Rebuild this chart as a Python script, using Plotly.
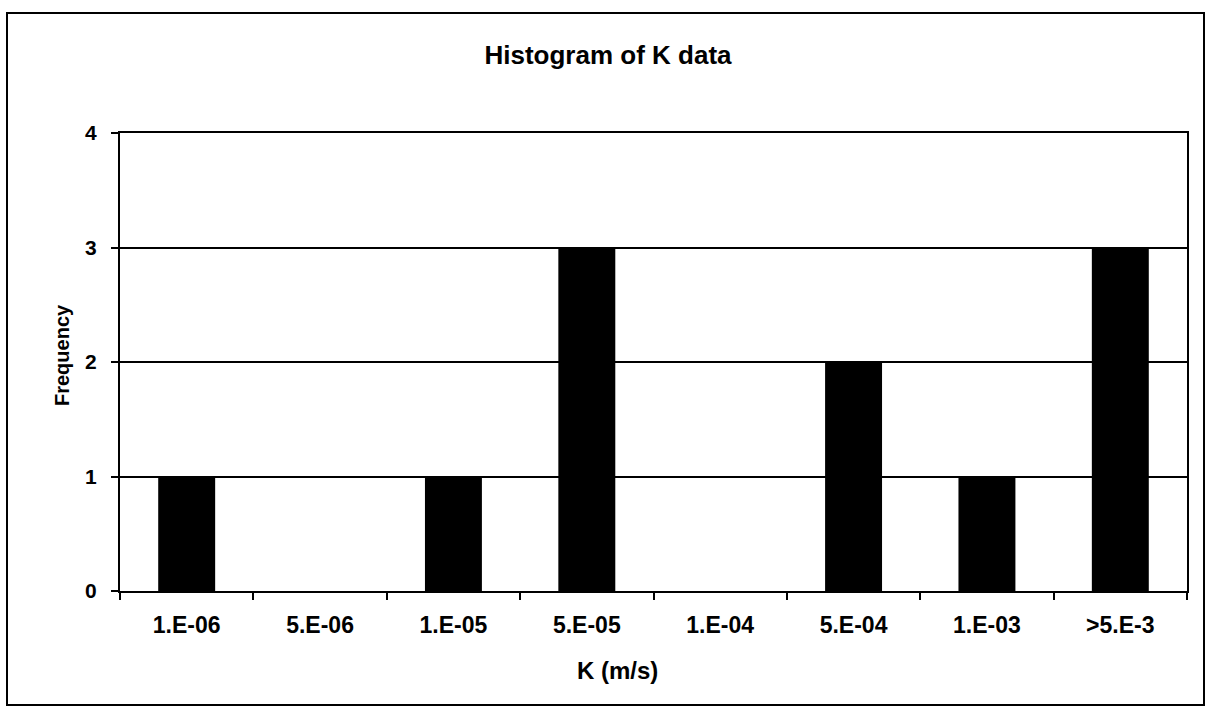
import plotly.graph_objects as go

categories = ["1.E-06", "5.E-06", "1.E-05", "5.E-05", "1.E-04", "5.E-04", "1.E-03", ">5.E-3"]
frequency = [1, 0, 1, 3, 0, 2, 1, 3]
y_ticks = [0, 1, 2, 3, 4]

FONT = "Liberation Sans, Arial, sans-serif"

fig = go.Figure()
fig.add_trace(go.Bar(x=categories, y=frequency, marker=dict(color="black", line=dict(width=0))))

L, R, T, B = 120, 21, 133, 117
W, H = 1208, 708
pw, ph = W - L - R, H - T - B

fig.update_layout(
    width=W, height=H,
    margin=dict(l=L, r=R, t=T, b=B),
    paper_bgcolor="white", plot_bgcolor="white",
    bargap=0.573,
    showlegend=False,
    font=dict(family=FONT, color="black"),
    title=dict(text="Histogram of K data", x=608 / W, xref="container", y=1 - 55 / H,
               yref="container", xanchor="center", yanchor="middle",
               font=dict(size=26, family=FONT, color="black", weight="bold")),
)
fig.update_xaxes(
    type="category", showline=True, linecolor="black", linewidth=2, mirror=True,
    ticks="outside", ticklen=7, tickwidth=1.5, tickcolor="black", tickson="boundaries",
    tickfont=dict(size=23, family=FONT, color="black", weight="bold"), showgrid=False,
    ticklabelstandoff=12,
)
fig.update_yaxes(
    range=[0, 4], tickvals=y_ticks, showline=True, linecolor="black", linewidth=2, mirror=True,
    ticks="outside", ticklen=7, tickwidth=1.5, tickcolor="black",
    showgrid=True, gridcolor="black", gridwidth=1.5,
    tickfont=dict(size=21, family=FONT, color="black", weight="bold"),
    zeroline=False, ticklabelstandoff=10,
)

# axis titles
fig.add_annotation(text="Frequency", xref="paper", yref="paper",
                   x=(62 - L) / pw, y=(H - B - 355) / ph, textangle=-90, showarrow=False,
                   xanchor="center", yanchor="middle",
                   font=dict(size=20, family=FONT, color="black", weight="bold"))
fig.add_annotation(text="K (m/s)", xref="paper", yref="paper",
                   x=(617 - L) / pw, y=(H - B - 670) / ph, showarrow=False,
                   xanchor="center", yanchor="middle",
                   font=dict(size=24, family=FONT, color="black", weight="bold"))

# outer frame
fig.add_shape(type="rect", xref="paper", yref="paper",
              x0=(7 - L) / pw, x1=(1204 - L) / pw,
              y0=(H - B - 705) / ph, y1=(H - B - 13) / ph,
              line=dict(color="black", width=2), fillcolor="rgba(0,0,0,0)", layer="below")

fig.write_html("out.html", config={"displayModeBar": False},
               post_script="document.body.style.margin='0px';")
